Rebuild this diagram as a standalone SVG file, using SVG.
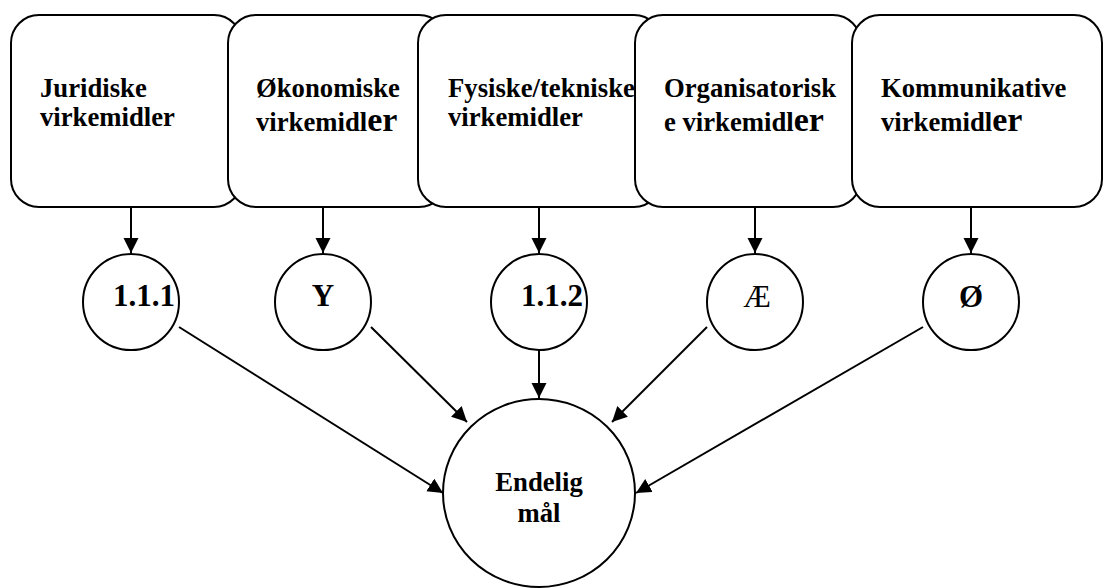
<svg xmlns="http://www.w3.org/2000/svg" width="1105" height="588" viewBox="0 0 1105 588">
  <style>
    .box { fill: #ffffff; stroke: #000000; stroke-width: 2; }
    .node { fill: #ffffff; stroke: #000000; stroke-width: 2; }
    text { font-family: 'Liberation Serif', 'DejaVu Serif', serif; fill: #000000; }
    .lbl { font-weight: 700; font-size: 26.7px; }
    .big { font-size: 34px; }
    .num { font-weight: 700; font-size: 31px; }
    .reg { font-weight: 400; font-size: 31px; }
    .conn { stroke: #000000; stroke-width: 2; fill: none; marker-end: url(#arrow); }
  </style>
  <defs>
    <marker id="arrow" markerUnits="userSpaceOnUse" markerWidth="16" markerHeight="16" refX="15" refY="7.5" orient="auto">
      <path d="M0,0 L15,7.5 L0,15 Z" fill="#000000"/>
    </marker>
  </defs>
  <rect width="1105" height="588" fill="#ffffff"/>

  <g id="box-juridiske">
    <rect class="box" x="11" y="15" width="231" height="192" rx="28" ry="28"/>
    <text class="lbl" x="40" y="97" font-family="Liberation Serif, serif">Juridiske</text>
    <text class="lbl" x="40" y="126" font-family="Liberation Serif, serif">virkemidler</text>
  </g>
  <g id="box-okonomiske">
    <rect class="box" x="228" y="15" width="219" height="192" rx="28" ry="28"/>
    <text class="lbl" x="256" y="97">Økonomiske</text>
    <text class="lbl" x="256" y="131">virkemidl<tspan class="big">er</tspan></text>
  </g>
  <g id="box-fysiske">
    <rect class="box" x="418" y="15" width="244" height="192" rx="28" ry="28"/>
    <text class="lbl" x="448" y="97">Fysiske/tekniske</text>
    <text class="lbl" x="448" y="126">virkemidler</text>
  </g>
  <g id="box-organisatoriske">
    <rect class="box" x="635" y="15" width="226" height="192" rx="28" ry="28"/>
    <text class="lbl" x="664" y="97">Organisatorisk</text>
    <text class="lbl" x="664" y="131">e virkemidl<tspan class="big">er</tspan></text>
  </g>
  <g id="box-kommunikative">
    <rect class="box" x="852" y="15" width="250" height="192" rx="28" ry="28"/>
    <text class="lbl" x="881" y="97">Kommunikative</text>
    <text class="lbl" x="881" y="131">virkemidl<tspan class="big">er</tspan></text>
  </g>

  <g id="node-111">
    <circle class="node" cx="131" cy="302" r="48"/>
    <text class="num" x="113" y="306">1.1.1</text>
  </g>
  <g id="node-y">
    <circle class="node" cx="323" cy="302" r="48"/>
    <text class="num" x="323" y="306" text-anchor="middle">Y</text>
  </g>
  <g id="node-112">
    <circle class="node" cx="539" cy="302" r="48"/>
    <text class="num" x="521" y="306">1.1.2</text>
  </g>
  <g id="node-ae">
    <circle class="node" cx="755" cy="302" r="48"/>
    <text class="reg" x="757" y="307" text-anchor="middle">Æ</text>
  </g>
  <g id="node-oe">
    <circle class="node" cx="971" cy="302" r="48"/>
    <text class="num" x="971" y="307" text-anchor="middle">Ø</text>
  </g>
  <g id="node-endelig">
    <ellipse class="node" cx="539" cy="493" rx="96" ry="94"/>
    <text class="lbl" x="539" y="491" text-anchor="middle">Endelig</text>
    <text class="lbl" x="539" y="522" text-anchor="middle">mål</text>
  </g>

  <g id="connectors">
    <line class="conn" x1="131" y1="207" x2="131" y2="253"/>
    <line class="conn" x1="323" y1="207" x2="323" y2="253"/>
    <line class="conn" x1="539" y1="207" x2="539" y2="253"/>
    <line class="conn" x1="755" y1="207" x2="755" y2="253"/>
    <line class="conn" x1="971" y1="207" x2="971" y2="253"/>
    <line class="conn" x1="179" y1="327" x2="443" y2="493"/>
    <line class="conn" x1="371" y1="327" x2="467" y2="422"/>
    <line class="conn" x1="539" y1="350" x2="539" y2="398"/>
    <line class="conn" x1="707" y1="327" x2="612" y2="422"/>
    <line class="conn" x1="923" y1="327" x2="636" y2="493"/>
  </g>
</svg>
